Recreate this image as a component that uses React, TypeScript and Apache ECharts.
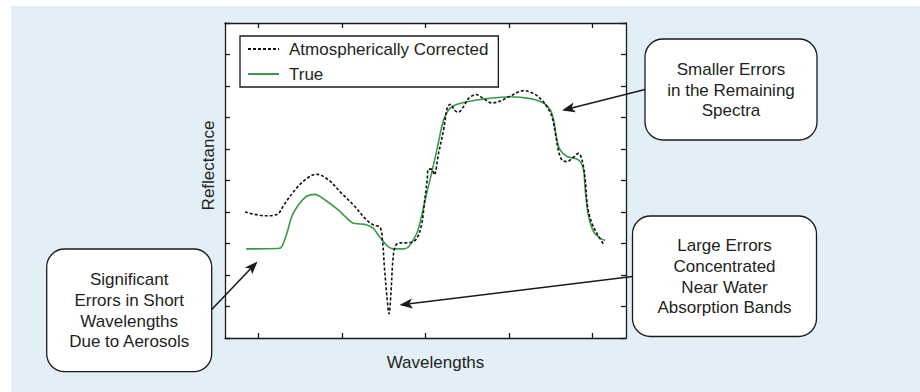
import React, { useEffect, useRef } from "react";
import * as echarts from "echarts";

// Wavelength (arbitrary nm-like units) and reflectance (%)
const trueWavelengths = [426, 619, 640, 670, 700, 739, 789, 836, 899, 979, 1019, 1069, 1109, 1149, 1188, 1216, 1248, 1276, 1308, 1368, 1396, 1428, 1456, 1498, 1534, 1570, 1608, 1638, 1678, 1748, 1868, 2007, 2127, 2207, 2247, 2267, 2287, 2307, 2347, 2397, 2426, 2446, 2456, 2476, 2506, 2546, 2576];
const trueReflectance = [14.15, 14.2, 14.5, 16.6, 19.3, 21.1, 22.5, 22.8, 21.9, 20.3, 19.3, 18.2, 18.1, 17.95, 17.4, 16.4, 15.3, 14.5, 14.15, 14.15, 14.4, 15.6, 17.2, 21.9, 25.9, 30.1, 34.6, 36.2, 37.0, 37.5, 38.0, 38.3, 38.0, 37.3, 36.2, 34.6, 31.4, 29.8, 28.8, 28.5, 28.0, 26.7, 23.5, 19.3, 16.9, 15.8, 15.5];

const corrWavelengths = [420, 540, 610, 659, 719, 779, 847, 919, 989, 1069, 1149, 1188, 1228, 1242, 1254, 1269, 1282, 1293, 1305, 1318, 1338, 1408, 1448, 1478, 1492, 1510, 1518, 1538, 1552, 1578, 1608, 1632, 1652, 1672, 1696, 1727, 1757, 1803, 1847, 1898, 1947, 2007, 2087, 2147, 2197, 2227, 2257, 2277, 2297, 2317, 2347, 2377, 2416, 2437, 2456, 2470, 2496, 2526, 2570];
const corrReflectance = [20.0, 19.4, 19.6, 21.4, 23.5, 25.1, 26.0, 25.1, 23.2, 21.1, 18.7, 17.95, 17.55, 15.6, 11.3, 6.6, 3.85, 7.1, 12.4, 14.5, 15.05, 15.15, 15.8, 18.2, 21.1, 25.1, 26.8, 26.8, 25.9, 29.3, 33.0, 36.7, 37.1, 36.2, 35.85, 36.7, 38.0, 38.66, 38.0, 37.3, 37.6, 38.4, 39.26, 38.8, 37.75, 36.7, 35.1, 32.5, 29.6, 28.25, 28.0, 28.5, 29.3, 28.25, 25.1, 20.85, 18.2, 16.6, 14.7];

const xTickValues = [500, 1000, 1500, 2000, 2500];
const seriesNames = ["Atmospherically Corrected", "True"];

const FONT = '"Liberation Sans", Arial, Helvetica, sans-serif';
const INK = "#231f20";
const GREEN = "#3b9a48";

function arrow(sx: number, sy: number, tx: number, ty: number) {
  const dx = tx - sx, dy = ty - sy;
  const L = Math.hypot(dx, dy);
  const ux = dx / L, uy = dy / L;
  const head = 13, hw = 5;
  const bx = tx - ux * head, by = ty - uy * head;
  const px = -uy, py = ux;
  return [
    { type: "line", shape: { x1: sx, y1: sy, x2: bx + ux * 3, y2: by + uy * 3 }, style: { stroke: "#1a1a1a", lineWidth: 1.6 } },
    {
      type: "polygon",
      shape: { points: [[tx, ty], [bx + px * hw, by + py * hw], [bx + ux * 3, by + uy * 3], [bx - px * hw, by - py * hw]] },
      style: { fill: "#1a1a1a" },
    },
  ];
}

function box(x: number, y: number, w: number, h: number, text: string) {
  return [
    { type: "rect", shape: { x, y, width: w, height: h, r: 18 }, style: { fill: "#fff", stroke: "#1a1a1a", lineWidth: 1.3 } },
    {
      type: "text",
      x: x + w / 2,
      y: y + h / 2 + 0.5,
      style: { text, fontSize: 17, fontFamily: FONT, fill: INK, align: "center", verticalAlign: "middle", lineHeight: 20.6 },
    },
  ];
}

export default function App() {
  const ref = useRef<HTMLDivElement>(null);
  useEffect(() => {
    if (!ref.current) return;
    const chart = echarts.init(ref.current, undefined, { renderer: "svg" });
    const axisLine = { show: true, onZero: false, lineStyle: { color: "#1a1a1a", width: 1.3 } };
    const tickStyle = { color: "#1a1a1a", width: 1.3 };
    const xAxisBase = {
      type: "value",
      min: 300,
      max: 2700,
      axisLine,
      axisTick: { show: true, inside: true, length: 5, customValues: xTickValues, lineStyle: tickStyle },
      axisLabel: { show: false },
      splitLine: { show: false },
    };
    const yAxisBase = {
      type: "value",
      min: 0,
      max: 50,
      interval: 5,
      axisLine,
      axisTick: { show: true, inside: true, length: 5, lineStyle: tickStyle },
      axisLabel: { show: false },
      splitLine: { show: false },
    };
    chart.setOption({
      animation: false,
      grid: { left: 225, top: 23, width: 401, height: 315, show: true, backgroundColor: "#fff", borderWidth: 0 },
      xAxis: [
        { ...xAxisBase, position: "bottom" },
        { ...xAxisBase, position: "top" },
      ],
      yAxis: [
        { ...yAxisBase, position: "left" },
        { ...yAxisBase, position: "right" },
      ],
      legend: {
        data: seriesNames,
        orient: "vertical",
        left: 240,
        top: 36,
        itemWidth: 31,
        itemHeight: 14,
        itemGap: 5,
        padding: [3, 10, 3, 7],
        borderColor: "#1a1a1a",
        borderWidth: 1.3,
        backgroundColor: "#fff",
        itemStyle: { opacity: 0, borderWidth: 0 },
        textStyle: { fontSize: 17, fontFamily: FONT, color: INK, lineHeight: 20, padding: [0, 0, 0, 5] },
      },
      series: [
        {
          name: seriesNames[1],
          type: "line",
          data: trueWavelengths.map((w, i) => [w, trueReflectance[i]]),
          symbol: "none",
          smooth: 0.35,
          lineStyle: { color: GREEN, width: 1.6 },
          itemStyle: { color: GREEN },
          z: 2,
        },
        {
          name: seriesNames[0],
          type: "line",
          data: corrWavelengths.map((w, i) => [w, corrReflectance[i]]),
          symbol: "none",
          smooth: 0.35,
          lineStyle: { color: "#111", width: 1.6, type: [3, 2] },
          itemStyle: { color: "#111" },
          z: 3,
        },
      ],
      graphic: [
        {
          type: "text",
          x: 208,
          y: 165.5,
          rotation: Math.PI / 2,
          style: { text: "Reflectance", fontSize: 17, fontFamily: FONT, fill: INK, align: "center", verticalAlign: "middle" },
        },
        {
          type: "text",
          x: 435.5,
          y: 362,
          style: { text: "Wavelengths", fontSize: 17, fontFamily: FONT, fill: INK, align: "center", verticalAlign: "middle" },
        },
        ...box(645, 39, 172, 101, "Smaller Errors\nin the Remaining\nSpectra"),
        ...box(632.5, 216, 184, 120.5, "Large Errors\nConcentrated\nNear Water\nAbsorption Bands"),
        ...box(46.7, 249, 165, 122.7, "Significant\nErrors in Short\nWavelengths\nDue to Aerosols"),
        ...arrow(645, 89.5, 562, 110.5),
        ...arrow(632.5, 276.5, 399.5, 305),
        ...arrow(211.7, 309.5, 257.5, 261.5),
      ],
    });
    return () => chart.dispose();
  }, []);
  return (
    <div style={{ position: "fixed", left: 0, top: 0, width: 920, height: 392, background: "#fff" }}>
      <div style={{ position: "absolute", left: 11, top: 6, right: 0, bottom: 0, background: "#e2eff7" }} />
      <div ref={ref} style={{ position: "absolute", left: 0, top: 0, width: 920, height: 392 }} />
    </div>
  );
}
